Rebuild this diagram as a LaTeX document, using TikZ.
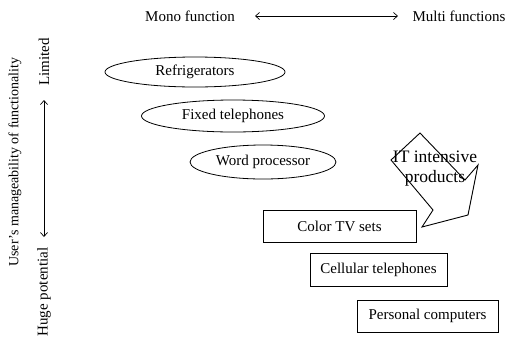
\documentclass[tikz,border=0pt]{standalone}
\usepackage{fontspec}
\setmainfont{Liberation Serif}
\usetikzlibrary{shapes.geometric,arrows.meta}
\begin{document}
\begin{tikzpicture}[x=1pt,y=-1pt,
  lbl/.style={inner sep=0pt,font=\fontsize{15}{18}\selectfont},
  oval/.style={ellipse,draw,line width=0.8pt,inner sep=0pt,font=\fontsize{15}{18}\selectfont},
  rbox/.style={rectangle,draw,line width=0.8pt,inner sep=0pt,font=\fontsize{15}{18}\selectfont},
  dbl/.style={{Straight Barb[length=4pt,width=7pt]}-{Straight Barb[length=4pt,width=7pt]},line width=0.7pt}]
\useasboundingbox (0,0) rectangle (512,341);
% top axis
\node[lbl] (mono) at (190,16) {Mono function};
\node[lbl] (multi) at (459,16) {Multi functions};
\coordinate (ha) at (255,16);
\coordinate (hb) at (398,16);
\draw[dbl] (ha) -- (hb);
% left axis
\node[lbl,rotate=90,font=\fontsize{14}{17}\selectfont] (user) at (15,162) {User's manageability of functionality};
\node[lbl,rotate=90] (lim) at (44,62) {Limited};
\node[lbl,rotate=90] (huge) at (44,292) {Huge potential};
\coordinate (va) at (44,100);
\coordinate (vb) at (44,237);
\draw[dbl] (va) -- (vb);
% ellipses
\node[oval,minimum width=180pt,minimum height=30pt] (refr) at (195,72) {Refrigerators};
\node[oval,minimum width=183pt,minimum height=32pt] (fixed) at (233,116) {Fixed telephones};
\node[oval,minimum width=146pt,minimum height=34pt] (word) at (263,162) {Word processor};
% IT arrow
\draw[line width=0.9pt,line join=miter] (420,133) -- (465,180) -- (478,165) -- (468,215) -- (422,227) -- (433,210) -- (391,160) -- cycle;
\node[lbl,align=center,font=\fontsize{17.5}{20}\selectfont] (it) at (435,169) {IT intensive\\products};
% boxes
\node[rbox,minimum width=153pt,minimum height=32pt] (tv) at (339.5,226) {Color TV sets};
\node[rbox,minimum width=137pt,minimum height=33pt] (cell) at (378.5,269.5) {Cellular telephones};
\node[rbox,minimum width=141pt,minimum height=32pt] (pc) at (427.5,316) {Personal computers};
\end{tikzpicture}
\end{document}
